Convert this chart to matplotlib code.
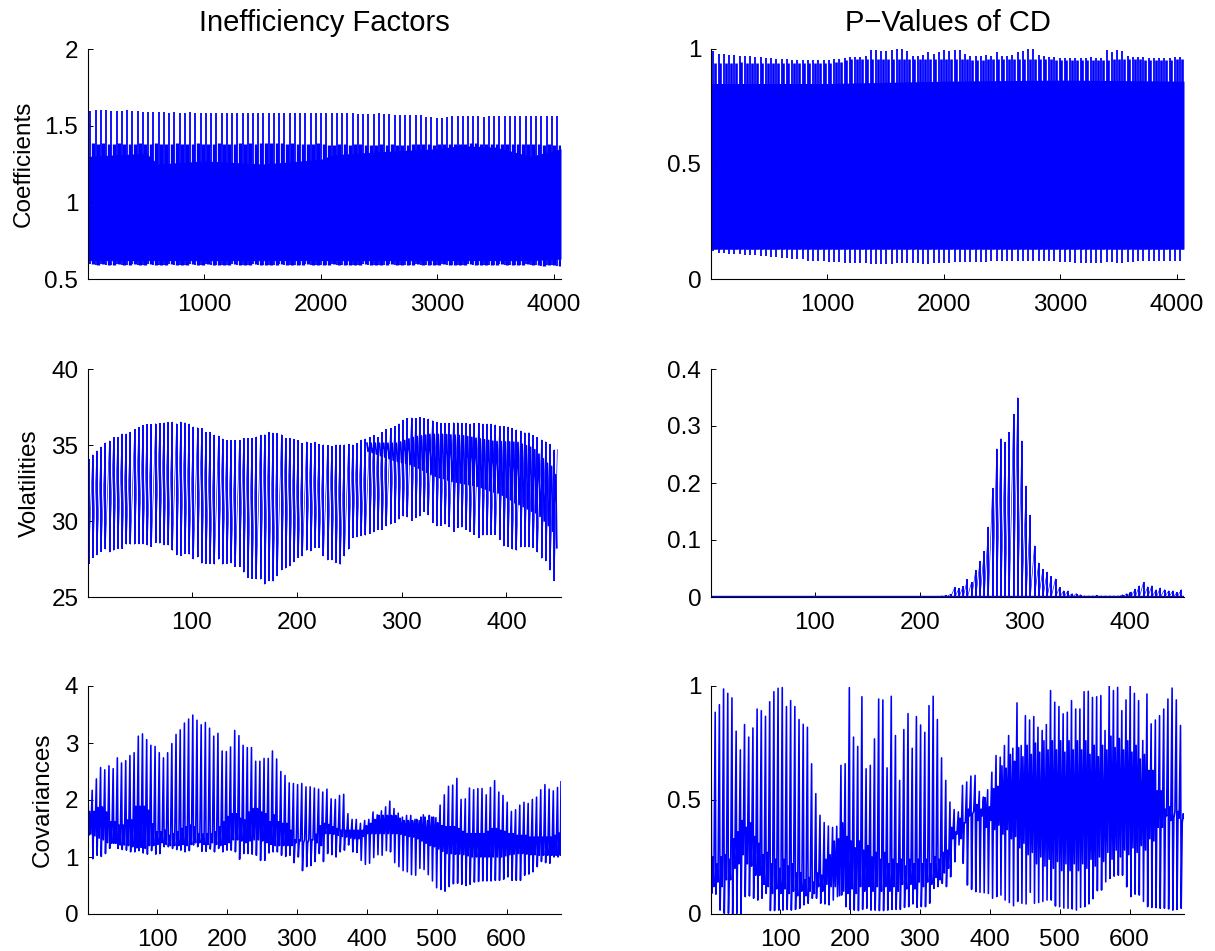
import numpy as np
import matplotlib
matplotlib.use("Agg")
import matplotlib.pyplot as plt

plt.rcParams["font.family"] = ["Liberation Sans", "DejaVu Sans"]

# --- coefficients: one spike per block, solid band read as an outline
coef_if_tops = [1.595,1.6,1.6,1.6,1.595,1.595,1.595,1.6,1.595,1.595,
                1.59,1.59,1.59,1.59,1.59,1.585,1.59,1.585,1.585,1.59,
                1.585,1.585,1.58,1.58,1.58,1.58,1.58,1.58,1.58,1.585,
                1.585,1.58,1.58,1.58,1.58,1.58,1.58,1.58,1.58,1.58,
                1.58,1.58,1.58,1.58,1.58,1.58,1.58,1.58,1.585,1.58,
                1.58,1.575,1.575,1.575,1.575,1.58,1.575,1.575,1.57,1.57,
                1.57,1.57,1.57,1.57,1.555,1.555,1.55,1.55,1.555,1.56,
                1.56,1.56,1.56,1.56,1.56,1.555,1.56,1.56,1.56,1.56,
                1.56,1.56,1.565,1.565,1.565,1.565,1.565,1.565,1.565,1.565]
coef_if_lows = [.595,.59,.595,.59,.59,.595,.59,.59,.595,.59,
                .59,.595,.59,.59,.59,.595,.59,.59,.59,.595,
                .59,.59,.595,.59,.59,.59,.59,.595,.59,.59,
                .59,.595,.59,.59,.59,.59,.595,.59,.59,.59,
                .59,.595,.59,.59,.59,.59,.595,.59,.59,.59,
                .59,.59,.595,.59,.59,.59,.59,.595,.59,.59,
                .59,.59,.595,.59,.59,.59,.59,.595,.59,.59,
                .59,.59,.595,.59,.59,.59,.59,.59,.595,.59,
                .59,.59,.59,.595,.59,.59,.585,.59,.59,.585]
coef_if_shelf = [1.385,1.38,1.385,1.38,1.38,1.385,1.38,1.38,1.38,1.385,
                 1.38,1.38,1.385,1.38,1.38,1.38,1.385,1.38,1.38,1.38,
                 1.385,1.38,1.38,1.38,1.385,1.38,1.38,1.38,1.385,1.38,
                 1.385,1.38,1.385,1.39,1.385,1.39,1.385,1.38,1.385,1.38,
                 1.38,1.38,1.38,1.385,1.38,1.375,1.375,1.38,1.38,1.375,
                 1.38,1.38,1.375,1.375,1.375,1.38,1.375,1.38,1.375,1.375,
                 1.375,1.38,1.38,1.38,1.38,1.375,1.38,1.38,1.38,1.38,
                 1.38,1.38,1.385,1.385,1.38,1.38,1.38,1.38,1.38,1.38,
                 1.38,1.38,1.38,1.38,1.38,1.38,1.375,1.38,1.375,1.375]
coef_if_band_x = [1,500,600,1000,1500,2000,2100,2500,3000,3200,3500,3800,4060]
coef_if_band_hi = [1.3,1.32,1.25,1.27,1.25,1.28,1.31,1.33,1.35,1.37,1.36,1.3,1.35]
coef_if_band_lo = [.62,.62,.62,.62,.62,.62,.62,.62,.62,.62,.62,.62,.63]

coef_p_tops = [.99,.98,.98,.975,.975,.97,.97,.97,.965,.965,
               .96,.96,.955,.955,.955,.95,.95,.95,.95,.95,
               .95,.95,.95,.955,.955,.96,.965,.965,.965,.97,
               .995,.995,.99,.99,.995,1.0,1.0,.99,.97,.97,
               .975,.985,.98,.985,.995,.99,.995,.995,.98,.97,
               .97,.97,.975,.97,.985,.97,.97,.975,.985,.99,
               1.0,1.0,.975,.97,.965,.965,.96,.96,.96,.96,
               .96,.96,.965,.96,.96,.995,.985,.995,.99,.97,
               .965,.965,.965,.96,.96,.96,.96,.96,.965,.965]
coef_p_shelf = [.94,.94,.94,.94,.94,.945,.94,.94,.94,.94,
                .94,.94,.94,.94,.94,.94,.94,.94,.94,.94,
                .94,.94,.94,.945,.945,.95,.955,.955,.955,.955,
                .955,.955,.955,.955,.955,.955,.955,.955,.955,.955,
                .955,.955,.955,.955,.955,.955,.955,.955,.955,.95,
                .95,.95,.955,.955,.955,.955,.955,.955,.955,.955,
                .955,.955,.955,.955,.955,.95,.95,.95,.95,.95,
                .95,.95,.95,.95,.95,.95,.955,.955,.955,.955,
                .955,.955,.95,.95,.95,.95,.95,.95,.955,.955]
coef_p_lows = [.12,.115,.115,.11,.11,.11,.105,.105,.105,.1,
               .1,.095,.095,.09,.09,.085,.085,.085,.08,.08,
               .08,.08,.075,.075,.075,.07,.07,.07,.068,.068,
               .065,.065,.065,.065,.065,.068,.068,.068,.068,.068,
               .065,.065,.068,.07,.07,.07,.072,.072,.072,.075,
               .075,.075,.075,.078,.08,.08,.08,.08,.08,.08,
               .08,.08,.08,.08,.078,.078,.075,.075,.072,.07,
               .068,.068,.068,.07,.07,.072,.072,.07,.07,.072,
               .075,.078,.078,.078,.08,.08,.08,.08,.08,.08]
coef_p_band_x = [1,1000,2000,3000,4060]
coef_p_band_hi = [.85,.85,.86,.865,.86]
coef_p_band_lo = [.13,.13,.13,.13,.13]

# --- volatilities: one tooth every 4 draws
vol_if_tops = [34.07,34.36,34.62,34.88,35.15,35.28,35.5,35.5,35.74,35.74,35.85,36.02,36.17,36.3,36.35,36.37,36.41,36.44,36.46,36.5,
               36.52,36.41,36.52,36.48,36.39,36.2,36.15,36.09,35.85,35.85,35.67,35.6,35.41,35.3,35.3,35.3,35.32,35.43,35.45,35.45,
               35.54,35.65,35.69,35.85,35.8,35.76,35.69,35.43,35.45,35.39,35.32,35.12,35.21,35.1,35.2,
               35.06,35.02,34.97,34.91,35.02,35.02,35.02,35.06,35.02,35.12,35.34,35.41,35.52,35.63,35.5,35.85,36.02,36.11,36.24,36.41,
               36.66,36.76,36.79,36.76,36.81,36.76,36.72,36.61,36.5,36.44,36.44,36.44,36.48,36.48,36.44,36.44,36.39,36.44,36.44,36.39,
               36.39,36.39,36.33,36.22,36.22,36.2,36.11,36.0,35.93,35.82,35.82,35.63,35.5,35.34,35.23,35.06,34.69]
vol_if_lows = [27.19,27.58,27.76,27.97,28.13,27.95,28.06,28.19,28.19,28.46,28.46,28.46,28.48,28.48,28.41,28.32,28.56,28.52,28.41,28.41,28.06,
               27.76,27.73,27.84,27.8,27.49,27.62,27.21,27.19,27.19,27.14,27.47,27.14,27.19,27.23,26.99,26.99,26.62,26.27,26.2,26.18,26.16,
               25.83,26.05,26.03,26.38,26.77,26.88,27.03,27.3,27.58,27.69,28.06,28.02,28.24,
               28.24,27.69,27.43,27.43,27.25,27.14,27.69,28.13,28.89,28.94,29.0,29.05,29.15,29.26,29.44,29.44,29.66,29.77,29.88,30.1,
               30.31,30.25,30.03,30.2,30.31,30.6,30.38,29.88,29.66,29.7,29.77,29.61,29.29,29.55,29.59,29.44,29.29,29.11,28.89,29.05,
               29.07,29.11,29.11,28.78,28.35,28.3,28.13,28.06,28.28,28.28,28.28,28.24,27.95,27.54,27.36,26.75,26.05]
vol_if_end = 34.7
# inner pair of each tooth, only readable from tooth 67 on
vol_inner_hi = [35.12,35.12,35.12,35.12,35.12,35.12,35.12,35.12,35.2,35.3,35.4,35.5,35.56,
                35.6,35.65,35.7,35.71,35.7,35.7,35.68,35.66,35.65,35.63,35.6,35.55,35.5,35.45,
                35.4,35.35,35.3,35.25,35.23,35.22,35.2,35.2,35.18,35.17,
                35.05,34.95,34.85,34.69,34.4,34.1,33.8,33.59,33.05]
vol_inner_lo = [34.58,34.5,34.4,34.3,34.2,34.1,34.0,33.92,33.85,33.78,33.7,33.6,33.48,
                33.35,33.2,33.05,32.94,32.85,32.8,32.7,32.6,32.55,32.5,32.45,32.4,32.35,32.28,
                32.2,32.1,32.0,31.9,31.84,31.7,31.55,31.4,31.2,31.08,
                30.95,30.8,30.65,30.53,30.3,30.0,29.7,29.33,28.24]

vol_p_flat = [.001] * 55
vol_p_peaks = [.002,.003,.005,.017,.015,.019,.031,.026,.047,.063,.08,.123,.191,.26,.278,.272,.289,.321,.35,.274,
               .195,.144,.09,.06,.049,.044,.036,.032,.017,.011,.011,.006,.006,.004,.002,.002,.002,.003,.002,.002,
               .002,.002,.002,.004,.006,.009,.014,.02,.026,.018,.02,.013,.016,.013,.011,.011,.008,.013]

# --- covariances: one tooth every 6 draws, four readings per tooth
cov_if_tops = [2.26,2.17,2.37,2.57,2.53,2.6,2.55,2.74,2.65,2.69,2.78,2.83,3.12,3.16,3.06,2.96,2.94,2.83,2.74,2.83,
               2.99,3.15,3.23,3.35,3.42,3.49,3.4,3.32,3.36,3.26,3.12,3.17,2.86,2.85,2.93,3.22,3.13,2.96,2.92,2.92,
               2.68,2.68,2.73,2.73,2.86,2.72,2.5,2.43,2.3,2.29,2.27,2.29,2.23,2.23,2.21,2.19,
               2.14,2.19,2.02,2.01,2.08,2.1,1.76,1.66,1.66,1.59,1.64,1.66,1.79,1.74,1.81,1.88,1.98,1.85,1.77,1.7,
               1.73,1.73,1.66,1.64,1.74,1.64,1.7,1.69,1.91,2.09,2.24,2.26,2.38,2.01,2.02,2.21,2.18,2.2,2.2,2.09,
               2.22,2.34,2.14,2.08,1.96,1.8,1.83,1.91,1.96,1.94,2.01,2.05,2.18,2.27,2.19,2.16,2.22]
cov_if_lows = [1.38,.97,1.03,1.01,1.06,1.15,1.24,1.15,1.13,1.12,1.09,1.09,1.11,1.07,1.05,1.11,1.05,1.06,1.18,1.18,
               1.15,1.13,1.12,1.09,1.11,1.21,1.18,1.1,1.1,1.14,1.09,1.15,1.09,1.12,1.12,1.09,.96,1.06,1.06,1.05,
               1.03,.94,.94,1.07,1.09,1.09,1.03,1.01,1.03,.9,1.0,.76,.83,.85,.92,1.06,
               .92,1.06,1.04,1.0,1.09,1.12,1.21,1.09,1.08,.94,.87,.89,.99,1.04,1.03,1.11,1.09,.9,.83,.76,
               .74,.69,.68,.8,.78,.69,.58,.46,.43,.4,.48,.53,.54,.52,.5,.52,.56,.57,.58,.58,
               .58,.59,.59,.61,.65,.59,.59,.59,.68,.7,.74,.83,.92,.9,.89,1.0,1.0]
cov_if_inner_hi = [1.8,1.8,1.87,1.88,1.79,1.62,1.62,1.56,1.56,1.65,1.65,1.89,1.89,1.89,1.82,1.58,1.44,1.44,1.47,1.38,
                   1.41,1.44,1.5,1.53,1.56,1.53,1.41,1.4,1.41,1.41,1.44,1.53,1.62,1.71,1.76,1.76,1.68,1.65,1.79,1.85,
                   1.85,1.79,1.76,1.62,1.74,1.62,1.59,1.59,1.47,1.3,1.3,1.25,1.25,1.3,1.4,1.55,
                   1.59,1.57,1.53,1.5,1.47,1.47,1.47,1.47,1.47,1.47,1.55,1.59,1.66,1.73,1.73,1.73,1.73,1.73,1.68,1.64,
                   1.64,1.64,1.66,1.7,1.7,1.73,1.7,1.6,1.55,1.53,1.53,1.53,1.5,1.45,1.41,1.41,1.41,1.41,1.41,1.45,
                   1.5,1.5,1.47,1.45,1.41,1.41,1.38,1.38,1.38,1.35,1.35,1.35,1.35,1.35,1.35,1.38,1.42]
cov_if_inner_lo = [1.4,1.37,1.33,1.3,1.25,1.24,1.24,1.21,1.21,1.2,1.18,1.16,1.17,1.15,1.2,1.2,1.22,1.25,1.22,1.2,
                   1.2,1.2,1.22,1.2,1.22,1.25,1.25,1.22,1.22,1.25,1.22,1.2,1.22,1.25,1.3,1.3,1.28,1.25,1.28,1.3,
                   1.3,1.28,1.25,1.22,1.2,1.2,1.2,1.2,1.2,1.25,1.28,1.3,1.3,1.3,1.25,1.2,
                   1.41,1.41,1.4,1.38,1.36,1.35,1.33,1.32,1.32,1.36,1.41,1.41,1.41,1.41,1.41,1.41,1.41,1.41,1.4,1.38,
                   1.36,1.35,1.32,1.28,1.24,1.2,1.18,1.14,1.1,1.06,1.06,1.05,1.05,1.04,1.02,1.0,1.0,1.0,1.0,1.0,
                   1.0,1.0,1.0,1.02,1.04,1.05,1.06,1.06,1.05,1.04,1.04,1.03,1.03,1.03,1.03,1.03,1.03]
cov_if_end = 2.32

cov_p_tops = [.834,.885,.918,.987,.968,.948,.802,.72,.831,.776,.816,.899,.892,.867,.931,.975,.99,.993,.91,.936,
              .91,.853,.832,.819,.659,.528,.433,.401,.386,.38,.385,.652,.659,.993,.776,.735,.953,.637,.652,.768,
              .943,.939,.641,.955,.783,.586,.809,.879,.727,.866,.829,.797,.914,.955,.853,.685,.586,
              .491,.458,.448,.564,.579,.605,.608,.538,.513,.545,.622,.695,.688,.739,.783,.727,.926,.739,.87,.851,
              .866,.819,.805,.831,.98,.929,.91,.878,.885,.936,.899,.899,.975,.977,.95,.953,.958,.805,1.0,.98,
              .994,.892,.939,.999,.968,.936,.761,.965,.834,.851,.87,.899,.943,.991,.939,.827]
cov_p_lows = [.09,.087,.017,.003,.003,0.0,.003,0.0,.076,.079,.069,.061,.069,.09,.015,.015,.017,.017,.02,.017,
              .02,.025,.04,.047,.069,.069,.047,.044,.04,.061,.076,.083,.032,.02,.017,.015,.02,.025,.017,.017,
              .015,.015,.017,.02,.02,.02,.029,.032,.044,.029,.032,.032,.047,.112,.12,.134,.12,
              .163,.229,.303,.222,.127,.108,.098,.095,.093,.09,.069,.076,.083,.061,.05,.036,.055,.047,.044,.095,
              .047,.05,.055,.061,.061,.035,.032,.026,.025,.022,.017,.029,.032,.044,.067,.102,.105,.141,.156,.166,
              .17,.17,.119,.076,.087,.083,.055,.032,.029,.028,.025,.025,.022,.017,.02,.025]
cov_p_inner_hi = [.25,.22,.25,.26,.24,.33,.36,.41,.38,.4,.34,.31,.26,.27,.22,.24,.2,.24,.21,.22,
                  .18,.18,.15,.16,.14,.18,.17,.24,.26,.32,.33,.4,.34,.32,.29,.32,.28,.3,.25,.27,
                  .24,.27,.22,.24,.22,.24,.21,.24,.22,.24,.22,.24,.22,.25,.24,.27,.28,
                  .38,.36,.42,.4,.46,.44,.48,.46,.51,.47,.55,.56,.65,.64,.7,.67,.73,.69,.74,.7,
                  .75,.71,.76,.72,.76,.72,.76,.71,.76,.72,.76,.72,.76,.7,.74,.69,.74,.72,.78,.73,
                  .77,.72,.76,.71,.74,.68,.7,.63,.63,.54,.54,.46,.47,.42,.45,.4]
cov_p_inner_lo = [.12,.14,.12,.15,.15,.2,.22,.26,.22,.21,.17,.17,.13,.12,.09,.11,.09,.11,.09,.1,
                  .08,.1,.08,.1,.09,.12,.1,.13,.12,.12,.08,.1,.09,.11,.09,.12,.1,.12,.1,.12,
                  .1,.12,.1,.12,.1,.13,.11,.13,.11,.14,.12,.14,.13,.16,.15,.18,.2,
                  .33,.35,.33,.4,.43,.45,.41,.43,.38,.41,.37,.39,.35,.37,.33,.34,.29,.31,.26,.27,
                  .22,.25,.21,.24,.2,.23,.19,.22,.19,.22,.19,.22,.2,.24,.21,.25,.23,.27,.24,.28,
                  .25,.28,.26,.29,.27,.3,.28,.33,.32,.38,.38,.43,.41,.45,.42,.44]
cov_p_end = .42

titles = ["Inefficiency Factors", "P\u2212Values of CD"]
row_labels = ["Coefficients", "Volatilities", "Covariances"]
xlims = [(1, 4060), (1, 452), (1, 678)]
xticks = [[1000, 2000, 3000, 4000], [100, 200, 300, 400], [100, 200, 300, 400, 500, 600]]
yticks = [[[.5, 1, 1.5, 2], [0, .5, 1]],
          [[25, 30, 35, 40], [0, .1, .2, .3, .4]],
          [[0, 1, 2, 3, 4], [0, .5, 1]]]
yticklabels = [[["0.5", "1", "1.5", "2"], ["0", "0.5", "1"]],
               [["25", "30", "35", "40"], ["0", "0.1", "0.2", "0.3", "0.4"]],
               [["0", "1", "2", "3", "4"], ["0", "0.5", "1"]]]
ylims = [[(.5, 2), (0, 1)], [(25, 40), (0, .4)], [(0, 4), (0, 1)]]

BLUE = "#0000ff"
W, H = 1215, 951
col_px = [(88, 561), (711, 1184)]
row_px = [(49, 279), (369, 597), (686, 914)]
label_x = [-0.113, -0.099, -0.072]


def teeth(ax, tops, lows, step, end=None):
    # bars are near vertical and dark, the way back up is a faint slant
    x = 1.5 + np.arange(len(tops)) * step
    ax.vlines(x, lows, tops, color=BLUE, lw=1.35)
    sx, sy = [], []
    for i in range(len(tops) - 1):
        sx += [x[i], x[i + 1]]
        sy += [lows[i], tops[i + 1]]
    if end is not None:
        sx += [x[-1], x[-1] + step - 1]
        sy += [lows[-1], end]
    ax.plot(sx, sy, color=BLUE, lw=0.45)


def teeth_inner(tops, lows, inner_hi, inner_lo, end):
    x, y = [], []
    for i in range(len(tops)):
        x += [1 + i * 6, 2 + i * 6, 3.5 + i * 6, 5 + i * 6]
        y += [tops[i], lows[i], inner_hi[i], inner_lo[i]]
    x.append(x[-1] + 1)
    y.append(end)
    return x, y


fig = plt.figure(figsize=(W / 100, H / 100), dpi=100)
axes = []
for r in range(3):
    line = []
    for c in range(2):
        l, rr = col_px[c]
        t, b = row_px[r]
        ax = fig.add_axes([l / W, 1 - b / H, (rr - l) / W, (b - t) / H])
        line.append(ax)
    axes.append(line)

# top row
ax = axes[0][0]
x = 22 + np.arange(len(coef_if_tops)) * 45
ax.vlines(x, coef_if_lows, coef_if_tops, color=BLUE, lw=1.3)
ax.vlines(x + 22, coef_if_lows, coef_if_shelf, color=BLUE, lw=2.4)
ax.fill_between(coef_if_band_x, coef_if_band_lo, coef_if_band_hi, color=BLUE, lw=0)

ax = axes[0][1]
x = 22 + np.arange(len(coef_p_tops)) * 45
ax.vlines(x, coef_p_lows, coef_p_tops, color=BLUE, lw=1.3)
ax.vlines(x + 14, coef_p_band_lo[0], coef_p_shelf, color=BLUE, lw=1.9)
ax.fill_between(coef_p_band_x, coef_p_band_lo, coef_p_band_hi, color=BLUE, lw=0)

# middle row
ax = axes[1][0]
teeth(ax, vol_if_tops, vol_if_lows, 4, vol_if_end)
first = len(vol_if_tops) - len(vol_inner_hi)
x, y = [], []
for i in range(len(vol_inner_hi)):
    x += [3 + (first + i) * 4, 4 + (first + i) * 4]
    y += [vol_inner_hi[i], vol_inner_lo[i]]
ax.plot(x, y, color=BLUE, lw=1.25)

ax = axes[1][1]
vol_p = vol_p_flat + vol_p_peaks
teeth(ax, vol_p, [0.0] * len(vol_p), 4)
ax.plot([1, 452], [0.001, 0.001], color=BLUE, lw=1.0)

# bottom row
ax = axes[2][0]
x, y = teeth_inner(cov_if_tops, cov_if_lows, cov_if_inner_hi, cov_if_inner_lo, cov_if_end)
ax.plot(x, y, color=BLUE, lw=1.15)

ax = axes[2][1]
x, y = teeth_inner(cov_p_tops, cov_p_lows, cov_p_inner_hi, cov_p_inner_lo, cov_p_end)
ax.plot(x, y, color=BLUE, lw=1.15)

for r in range(3):
    for c in range(2):
        ax = axes[r][c]
        ax.set_xlim(*xlims[r])
        ax.set_ylim(*ylims[r][c])
        ax.set_xticks(xticks[r])
        ax.set_yticks(yticks[r][c])
        ax.set_yticklabels(yticklabels[r][c])
        ax.spines["top"].set_visible(False)
        ax.spines["right"].set_visible(False)
        ax.spines["left"].set_linewidth(0.8)
        ax.spines["bottom"].set_linewidth(0.8)
        ax.tick_params(direction="in", length=3.5, width=0.7, labelsize=17.5)
        ax.tick_params(axis="x", pad=10.5)
        ax.tick_params(axis="y", pad=7)
    axes[r][0].set_ylabel(row_labels[r], fontsize=17.5)
    axes[r][0].yaxis.set_label_coords(label_x[r], 0.5)

axes[0][0].set_title(titles[0], fontsize=21, pad=13)
axes[0][1].set_title(titles[1], fontsize=21, pad=13)

fig.savefig("out.png", dpi=100)
